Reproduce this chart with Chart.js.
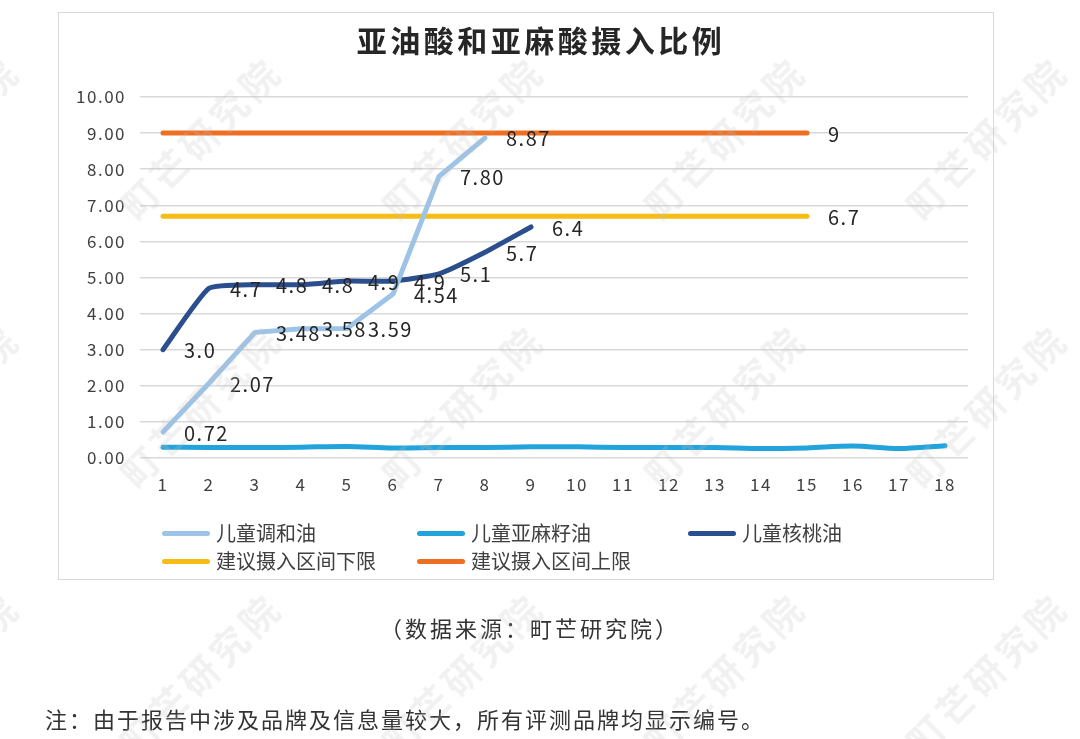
<!DOCTYPE html>
<html>
<head>
<meta charset="utf-8">
<script src="https://cdn.jsdelivr.net/npm/chart.js@4"></script>
<style>
  html, body { margin: 0; padding: 0; background: #fff; }
  body { width: 1080px; height: 739px; position: relative; overflow: hidden;
         font-family: "Noto Sans CJK SC", "Noto Sans", sans-serif; color: #333; }
  #box { position: absolute; left: 58px; top: 12px; width: 934px; height: 566px;
         border: 1.5px solid #d9d9d9; }
  #chart { position: absolute; left: 0; top: 0; }
  #title { position: absolute; left: 0; width: 1082px; top: 17px; text-align: center;
           font-size: 30px; font-weight: bold; letter-spacing: 3.5px; color: #262626; line-height: 44px; }
  .leg { position: absolute; display: flex; align-items: center; font-size: 20px; color: #404040; line-height: 24px; }
  .leg i { display: inline-block; width: 48px; height: 5px; border-radius: 3px; margin-right: 6px; }
  #source { position: absolute; left: 0; width: 1060px; top: 612px; text-align: center;
            font-size: 22px; letter-spacing: 3px; line-height: 30px; }
  #note { position: absolute; left: 45px; top: 703px; font-size: 22px; letter-spacing: 2px; line-height: 30px; }
  .wm { position: absolute; font-size: 37px; font-weight: bold; letter-spacing: 5px; white-space: nowrap;
        color: rgba(190,190,190,0.22); transform: translate(-50%, -50%) rotate(-45deg); pointer-events: none; }
</style>
</head>
<body>
<div id="box"></div>
<canvas id="chart" width="1080" height="739"></canvas>
<div id="title">亚油酸和亚麻酸摄入比例</div>
<div id="legend"></div>
<div id="source">（数据来源：町芒研究院）</div>
<div id="note">注：由于报告中涉及品牌及信息量较大，所有评测品牌均显示编号。</div>
<div id="marks"></div>
<script>
const categories = ['1', '2', '3', '4', '5', '6', '7', '8', '9', '10', '11', '12', '13', '14', '15', '16', '17', '18'];

const blendOil = [0.72, 2.07, 3.48, 3.58, 3.59, 4.54, 7.80, 8.87];
const linseedOil = [0.30, 0.29, 0.29, 0.30, 0.32, 0.28, 0.29, 0.29, 0.31, 0.31, 0.29, 0.29, 0.29, 0.26, 0.28, 0.33, 0.26, 0.34];
const walnutOil = [3.0, 4.7, 4.8, 4.8, 4.9, 4.9, 5.1, 5.7, 6.4];
const lowerLimit = [6.7, 6.7, 6.7, 6.7, 6.7, 6.7, 6.7, 6.7, 6.7, 6.7, 6.7, 6.7, 6.7, 6.7, 6.7];
const upperLimit = [9, 9, 9, 9, 9, 9, 9, 9, 9, 9, 9, 9, 9, 9, 9];

const seriesNames = ['儿童调和油', '儿童亚麻籽油', '儿童核桃油', '建议摄入区间下限', '建议摄入区间上限'];
const seriesColors = ['#9dc3e6', '#22a3dc', '#2b4f8e', '#f6bd16', '#ee6e22'];

// legend columns like the excel original
const legendPos = [[162, 521], [417, 521], [688, 521], [162, 549], [417, 549]];
const legend = document.getElementById('legend');
seriesNames.forEach((name, i) => {
  const d = document.createElement('div');
  d.className = 'leg';
  d.style.left = legendPos[i][0] + 'px';
  d.style.top = legendPos[i][1] + 'px';
  d.innerHTML = '<i style="background:' + seriesColors[i] + '"></i>' + name;
  legend.appendChild(d);
});

// watermark tiles
const marks = document.getElementById('marks');
for (let j = 0; j < 3; j++) {
  for (let k = 0; k < 5; k++) {
    const w = document.createElement('div');
    w.className = 'wm';
    w.textContent = '町芒研究院';
    w.style.left = (10 + 262 * k - 72) + 'px';
    w.style.top = (63 + 268 * j + 74) + 'px';
    marks.appendChild(w);
  }
}

const valueLabels = {
  id: 'valueLabels',
  beforeDraw(chart) {
    chart.ctx.letterSpacing = '1.5px';
  },
  afterDatasetsDraw(chart) {
    const ctx = chart.ctx;
    ctx.save();
    ctx.font = '20px "Noto Sans CJK SC", "Noto Sans", sans-serif';
    ctx.letterSpacing = '1.5px';
    ctx.fillStyle = '#262626';
    ctx.textAlign = 'left';
    ctx.textBaseline = 'middle';
    chart.data.datasets.forEach((ds, di) => {
      if (!ds.labelMode) return;
      const meta = chart.getDatasetMeta(di);
      ds.data.forEach((v, i) => {
        if (v == null) return;
        if (ds.labelMode === 'last' && i !== ds.data.length - 1) return;
        const pt = meta.data[i];
        ctx.fillText(ds.labelFmt(v), pt.x + 21, pt.y + 1);
      });
    });
    ctx.restore();
  }
};

const lineBase = {
  borderWidth: 5,
  pointRadius: 0,
  pointHoverRadius: 0,
  borderCapStyle: 'round',
  borderJoinStyle: 'round',
  fill: false
};

new Chart(document.getElementById('chart'), {
  type: 'line',
  data: {
    labels: categories,
    datasets: [
      { ...lineBase, label: seriesNames[0], data: blendOil, borderColor: seriesColors[0], tension: 0,
        labelMode: 'all', labelFmt: v => v.toFixed(2) },
      { ...lineBase, label: seriesNames[1], data: linseedOil, borderColor: seriesColors[1], tension: 0.3 },
      { ...lineBase, label: seriesNames[2], data: walnutOil, borderColor: seriesColors[2], tension: 0.15,
        labelMode: 'all', labelFmt: v => v.toFixed(1) },
      { ...lineBase, label: seriesNames[3], data: lowerLimit, borderColor: seriesColors[3], tension: 0,
        labelMode: 'last', labelFmt: v => String(v) },
      { ...lineBase, label: seriesNames[4], data: upperLimit, borderColor: seriesColors[4], tension: 0,
        labelMode: 'last', labelFmt: v => String(v) }
    ]
  },
  options: {
    responsive: false,
    animation: false,
    events: [],
    layout: { padding: { left: 50, right: 112, top: 97, bottom: 241 } },
    plugins: {
      legend: { display: false },
      title: { display: false },
      tooltip: { enabled: false }
    },
    scales: {
      x: {
        offset: true,
        grid: { display: false, drawTicks: false },
        border: { display: false },
        ticks: {
          padding: 16,
          color: '#404040',
          font: { size: 17, family: '"Noto Sans CJK SC", "Noto Sans", sans-serif' },
          maxRotation: 0,
          autoSkip: false
        },
        afterFit: s => { s.height = 40; }
      },
      y: {
        min: 0,
        max: 10,
        grid: { color: '#d9d9d9', lineWidth: 1.5, drawTicks: false },
        border: { display: false },
        ticks: {
          stepSize: 1,
          padding: 14,
          color: '#404040',
          font: { size: 17, family: '"Noto Sans CJK SC", "Noto Sans", sans-serif' },
          callback: v => v.toFixed(2)
        },
        afterFit: s => { s.width = 90; }
      }
    }
  },
  plugins: [valueLabels]
});
</script>
</body>
</html>
